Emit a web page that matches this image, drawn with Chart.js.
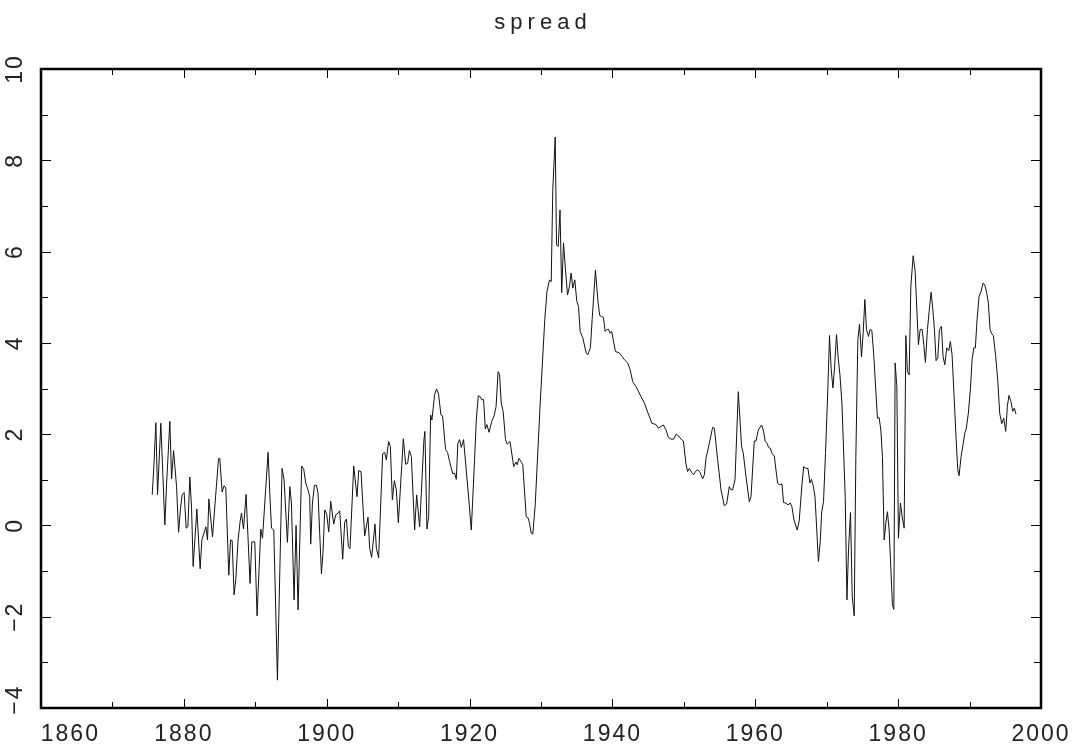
<!DOCTYPE html>
<html>
<head>
<meta charset="utf-8">
<title>spread</title>
<script src="https://cdn.jsdelivr.net/npm/chart.js@4/dist/chart.umd.min.js"></script>
<style>
    html, body { margin: 0; padding: 0; background: #fff; }
    #spreadChart { display: block; }
</style>
</head>
<body>
<canvas id="spreadChart" width="1077" height="746"></canvas>
<script>
// Values
const years = [
    1875.57, 1875.80, 1876.08, 1876.32, 1876.78, 1877.34, 1877.58, 1878.04, 1878.28, 1878.56,
    1878.98, 1879.26, 1879.54, 1879.76, 1880.04, 1880.32, 1880.56, 1880.84, 1881.08, 1881.30,
    1881.82, 1882.28, 1882.52, 1883.08, 1883.31, 1883.50, 1884.01, 1884.85, 1885.03, 1885.36,
    1885.64, 1885.87, 1886.29, 1886.53, 1886.76, 1887.03, 1887.27, 1887.59, 1887.87, 1888.07,
    1888.35, 1888.71, 1889.27, 1889.51, 1889.93, 1890.25, 1890.77, 1891.01, 1891.79, 1892.03,
    1892.27, 1892.59, 1893.10, 1893.75, 1894.03, 1894.50, 1894.83, 1895.06, 1895.43, 1895.71,
    1895.99, 1896.50, 1896.78, 1897.06, 1897.38, 1897.62, 1897.76, 1898.00, 1898.28, 1898.56,
    1898.78, 1899.26, 1899.48, 1899.72, 1900.00, 1900.28, 1900.56, 1900.98, 1901.26, 1901.58,
    1901.82, 1902.24, 1902.52, 1902.76, 1903.03, 1903.26, 1903.78, 1904.24, 1904.48, 1904.80,
    1905.31, 1905.78, 1906.01, 1906.29, 1906.76, 1906.95, 1907.27, 1907.83, 1908.11, 1908.35,
    1908.67, 1908.91, 1909.19, 1909.47, 1909.75, 1910.03, 1910.73, 1911.05, 1911.33, 1911.57,
    1911.85, 1912.31, 1912.59, 1913.01, 1913.61, 1913.75, 1914.03, 1914.27, 1914.55, 1914.73,
    1915.10, 1915.38, 1915.66, 1915.99, 1916.22, 1916.64, 1916.92, 1917.20, 1917.66, 1917.90,
    1918.14, 1918.36, 1918.60, 1918.84, 1919.16, 1919.90, 1920.24, 1920.70, 1920.94, 1921.22,
    1921.50, 1921.72, 1921.96, 1922.20, 1922.42, 1922.73, 1923.10, 1923.43, 1923.71, 1923.99,
    1924.20, 1924.43, 1924.70, 1925.03, 1925.27, 1925.66, 1926.18, 1926.50, 1926.67, 1926.92,
    1927.27, 1927.45, 1927.93, 1928.21, 1928.39, 1928.63, 1928.85, 1929.19, 1929.89, 1930.53,
    1930.84, 1931.19, 1931.43, 1931.65, 1931.99, 1932.17, 1932.41, 1932.66, 1932.90, 1933.15,
    1933.43, 1933.71, 1933.99, 1934.22, 1934.45, 1934.73, 1935.01, 1935.25, 1935.48, 1935.85,
    1936.32, 1936.55, 1936.92, 1937.16, 1937.62, 1938.00, 1938.22, 1938.46, 1938.74, 1938.98,
    1939.20, 1939.44, 1939.68, 1939.90, 1940.42, 1940.98, 1941.36, 1941.68, 1942.14, 1942.48,
    1942.84, 1943.31, 1944.01, 1944.48, 1944.94, 1945.31, 1945.50, 1946.11, 1946.43, 1947.13,
    1947.51, 1947.83, 1948.21, 1948.57, 1948.91, 1949.27, 1949.61, 1949.93, 1950.31, 1950.53,
    1950.77, 1951.09, 1951.37, 1951.61, 1951.93, 1952.27, 1952.63, 1952.87, 1953.10, 1953.57,
    1954.03, 1954.27, 1954.73, 1955.20, 1955.66, 1955.99, 1956.36, 1956.60, 1956.83, 1957.16,
    1957.62, 1958.08, 1958.32, 1958.70, 1959.16, 1959.40, 1959.86, 1960.10, 1960.42, 1960.88,
    1961.12, 1961.40, 1961.64, 1961.86, 1962.10, 1962.34, 1962.66, 1963.12, 1963.36, 1963.73,
    1963.96, 1964.29, 1964.57, 1964.90, 1965.13, 1965.41, 1965.87, 1966.15, 1966.53, 1966.78,
    1967.09, 1967.37, 1967.65, 1967.86, 1968.11, 1968.36, 1968.84, 1969.09, 1969.30, 1969.55,
    1969.83, 1970.17, 1970.39, 1970.63, 1970.87, 1971.09, 1971.37, 1971.61, 1971.85, 1972.13,
    1972.59, 1972.83, 1973.05, 1973.33, 1973.57, 1973.85, 1974.08, 1974.36, 1974.59, 1974.87,
    1975.10, 1975.34, 1975.57, 1975.85, 1976.08, 1976.32, 1976.60, 1977.10, 1977.34, 1977.58,
    1977.80, 1978.04, 1978.28, 1978.50, 1978.74, 1979.20, 1979.40, 1979.58, 1979.82, 1980.04,
    1980.32, 1980.56, 1980.84, 1981.08, 1981.30, 1981.54, 1981.78, 1982.10, 1982.38, 1982.84,
    1983.08, 1983.36, 1983.59, 1983.82, 1984.10, 1984.34, 1984.62, 1984.85, 1985.08, 1985.31,
    1985.55, 1985.78, 1986.06, 1986.29, 1986.53, 1986.81, 1987.09, 1987.31, 1987.55, 1987.79,
    1988.11, 1988.35, 1988.53, 1988.81, 1989.09, 1989.33, 1989.55, 1989.83, 1990.11, 1990.35,
    1990.59, 1990.81, 1991.05, 1991.33, 1991.61, 1991.89, 1992.13, 1992.41, 1992.63, 1992.87,
    1993.10, 1993.33, 1993.66, 1993.94, 1994.22, 1994.50, 1994.78, 1995.06, 1995.29, 1995.52,
    1995.80, 1996.04, 1996.27, 1996.50
];
const spread = [
    0.67, 1.29, 2.25, 0.68, 2.24, 0.01, 0.90, 2.28, 1.02, 1.64,
    0.85, -0.15, 0.38, 0.67, 0.72, -0.06, -0.03, 1.06, 0.38, -0.90,
    0.36, -0.95, -0.32, -0.03, -0.32, 0.58, -0.25, 1.46, 1.47, 0.73,
    0.87, 0.82, -1.09, -0.32, -0.33, -1.52, -1.19, -0.32, 0.08, 0.27,
    -0.08, 0.68, -1.27, -0.36, -0.36, -1.98, -0.08, -0.28, 1.60, 0.71,
    -0.06, -0.10, -3.39, 1.25, 1.00, -0.37, 0.85, 0.49, -1.63, 0.00,
    -1.85, 1.30, 1.23, 0.93, 0.78, 0.63, -0.41, 0.49, 0.88, 0.88,
    0.71, -1.06, -0.59, 0.34, 0.25, -0.14, 0.53, 0.03, 0.23, 0.27,
    0.32, -0.74, 0.08, 0.14, -0.46, -0.51, 1.30, 0.63, 1.20, 1.18,
    -0.23, 0.18, -0.50, -0.70, 0.03, -0.50, -0.71, 1.57, 1.60, 1.44,
    1.84, 1.73, 0.56, 0.98, 0.78, 0.06, 1.90, 1.34, 1.36, 1.64,
    1.51, -0.10, 0.67, -0.03, 1.88, 2.06, -0.08, 0.19, 2.42, 2.31,
    2.86, 2.99, 2.88, 2.42, 2.40, 1.66, 1.60, 1.40, 1.13, 1.15,
    1.01, 1.80, 1.88, 1.71, 1.88, 0.56, -0.10, 1.44, 2.31, 2.84,
    2.82, 2.75, 2.76, 2.11, 2.21, 2.04, 2.28, 2.40, 2.60, 3.37,
    3.31, 2.68, 2.50, 1.88, 1.78, 1.84, 1.29, 1.39, 1.33, 1.47,
    1.38, 1.33, 0.19, 0.16, 0.05, -0.17, -0.19, 0.45, 2.68, 4.51,
    5.13, 5.38, 5.34, 7.36, 8.51, 6.15, 6.11, 6.91, 5.10, 6.19,
    5.60, 5.05, 5.24, 5.53, 5.20, 5.38, 4.91, 4.80, 4.25, 4.11,
    3.78, 3.74, 3.90, 4.51, 5.59, 4.87, 4.60, 4.58, 4.56, 4.25,
    4.29, 4.30, 4.21, 4.25, 3.81, 3.78, 3.70, 3.63, 3.56, 3.41,
    3.15, 3.04, 2.82, 2.68, 2.48, 2.33, 2.24, 2.21, 2.13, 2.20,
    2.09, 1.93, 1.89, 1.89, 2.00, 1.96, 1.89, 1.85, 1.33, 1.18,
    1.25, 1.16, 1.11, 1.18, 1.22, 1.16, 1.02, 1.11, 1.47, 1.80,
    2.15, 2.13, 1.44, 0.78, 0.43, 0.47, 0.85, 0.78, 0.78, 1.00,
    2.93, 1.73, 1.58, 1.07, 0.52, 0.63, 1.85, 1.85, 2.09, 2.20,
    2.09, 1.84, 1.80, 1.71, 1.69, 1.58, 1.52, 0.93, 0.89, 0.91,
    0.50, 0.49, 0.45, 0.49, 0.41, 0.12, -0.10, 0.10, 0.89, 1.29,
    1.25, 1.25, 0.93, 1.01, 0.87, 0.63, -0.79, -0.36, 0.30, 0.52,
    1.58, 3.04, 4.16, 3.41, 3.01, 3.45, 4.18, 3.67, 3.30, 2.68,
    0.63, -1.63, -0.54, 0.28, -1.56, -1.98, 1.51, 4.07, 4.41, 3.69,
    4.21, 4.95, 4.29, 4.14, 4.30, 4.27, 3.70, 2.35, 2.36, 2.09,
    1.51, -0.32, 0.05, 0.30, -0.10, -1.74, -1.84, 3.56, 3.04, -0.28,
    0.49, 0.19, -0.06, 4.16, 3.37, 3.30, 5.24, 5.91, 5.57, 3.96,
    4.29, 4.30, 3.96, 3.57, 4.29, 4.69, 5.11, 4.74, 4.29, 3.61,
    3.67, 4.29, 4.36, 3.70, 3.52, 3.89, 3.83, 4.03, 3.74, 2.97,
    1.91, 1.22, 1.09, 1.51, 1.77, 2.02, 2.13, 2.46, 2.97, 3.63,
    3.89, 3.89, 4.51, 5.02, 5.13, 5.31, 5.27, 5.09, 4.87, 4.29,
    4.20, 4.16, 3.70, 3.19, 2.46, 2.23, 2.35, 2.06, 2.61, 2.85,
    2.71, 2.50, 2.57, 2.44
];

const xRange = [1860, 2000];
const yRange = [-4, 10];
const xLabelStep = 20;
const yLabelStep = 2;
const titleText = 'spread';

const labelFont = { family: '"Liberation Sans", Arial, sans-serif', size: 23 };
const nbsp = '\u00a0';

// Frame and inward tick marks (major + minor) on all four sides
const frameTicks = {
    id: 'frameTicks',
    beforeDraw(chart) {
        chart.ctx.letterSpacing = '2px';
    },
    afterDraw(chart) {
        const { ctx, chartArea: a, scales: { x, y } } = chart;
        ctx.save();
        ctx.letterSpacing = '0px';
        ctx.strokeStyle = '#000';
        ctx.lineWidth = 1;
        ctx.beginPath();
        for (let v = xRange[0] + 10; v < xRange[1]; v += 10) {
            const px = Math.round(x.getPixelForValue(v)) + 0.5;
            const len = v % xLabelStep === 0 ? 9 : 6;
            ctx.moveTo(px, a.bottom); ctx.lineTo(px, a.bottom - len);
            ctx.moveTo(px, a.top); ctx.lineTo(px, a.top + len);
        }
        for (let v = yRange[0] + 1; v < yRange[1]; v += 1) {
            const py = Math.round(y.getPixelForValue(v)) + 0.5;
            const len = v % yLabelStep === 0 ? 10 : 7;
            ctx.moveTo(a.left, py); ctx.lineTo(a.left + len, py);
            ctx.moveTo(a.right, py); ctx.lineTo(a.right - len, py);
        }
        ctx.stroke();

        ctx.lineWidth = 2.5;
        ctx.strokeRect(a.left, a.top, a.right - a.left, a.bottom - a.top);

        // title
        ctx.letterSpacing = '5px';
        ctx.fillStyle = '#222';
        ctx.font = '22px "Liberation Sans", Arial, sans-serif';
        ctx.textAlign = 'center';
        ctx.textBaseline = 'middle';
        ctx.fillText(titleText, (a.left + a.right) / 2 + 2, 23);
        ctx.restore();
    }
};

const ctx = document.getElementById('spreadChart').getContext('2d');
new Chart(ctx, {
    type: 'line',
    data: {
        datasets: [{
            label: titleText,
            data: years.map((yr, i) => ({ x: yr, y: spread[i] })),
            borderColor: '#111',
            borderWidth: 1,
            pointRadius: 0,
            tension: 0,
            fill: false
        }]
    },
    options: {
        responsive: false,
        animation: false,
        devicePixelRatio: 1,
        layout: {
            padding: { top: 69, right: 36, left: 0, bottom: 0 }
        },
        plugins: {
            legend: { display: false },
            tooltip: { enabled: false },
            title: { display: false }
        },
        scales: {
            x: {
                type: 'linear',
                min: xRange[0],
                max: xRange[1],
                grid: { display: false, drawTicks: false },
                border: { display: false },
                ticks: {
                    stepSize: xLabelStep,
                    maxRotation: 0,
                    padding: 13,
                    color: '#222',
                    font: labelFont,
                    callback: function(value) {
                        // first label sits right of the corner, as in the original
                        return value === xRange[0] ? nbsp.repeat(7) + value : String(value);
                    }
                },
                afterFit: function(scale) {
                    scale.height = 38;
                    scale.paddingLeft = 0;
                    scale.paddingRight = 0;
                }
            },
            y: {
                min: yRange[0],
                max: yRange[1],
                grid: { display: false, drawTicks: false },
                border: { display: false },
                ticks: {
                    stepSize: yLabelStep,
                    minRotation: 90,
                    maxRotation: 90,
                    crossAlign: 'center',
                    padding: 6,
                    color: '#222',
                    font: labelFont,
                    callback: function(value) {
                        if (value === yRange[0]) return nbsp.repeat(2) + '\u2212' + Math.abs(value);
                        return value < 0 ? '\u2212' + Math.abs(value) : String(value);
                    }
                },
                afterFit: function(scale) {
                    scale.width = 41;
                    scale.paddingTop = 0;
                    scale.paddingBottom = 0;
                }
            }
        }
    },
    plugins: [frameTicks]
});
</script>
</body>
</html>
